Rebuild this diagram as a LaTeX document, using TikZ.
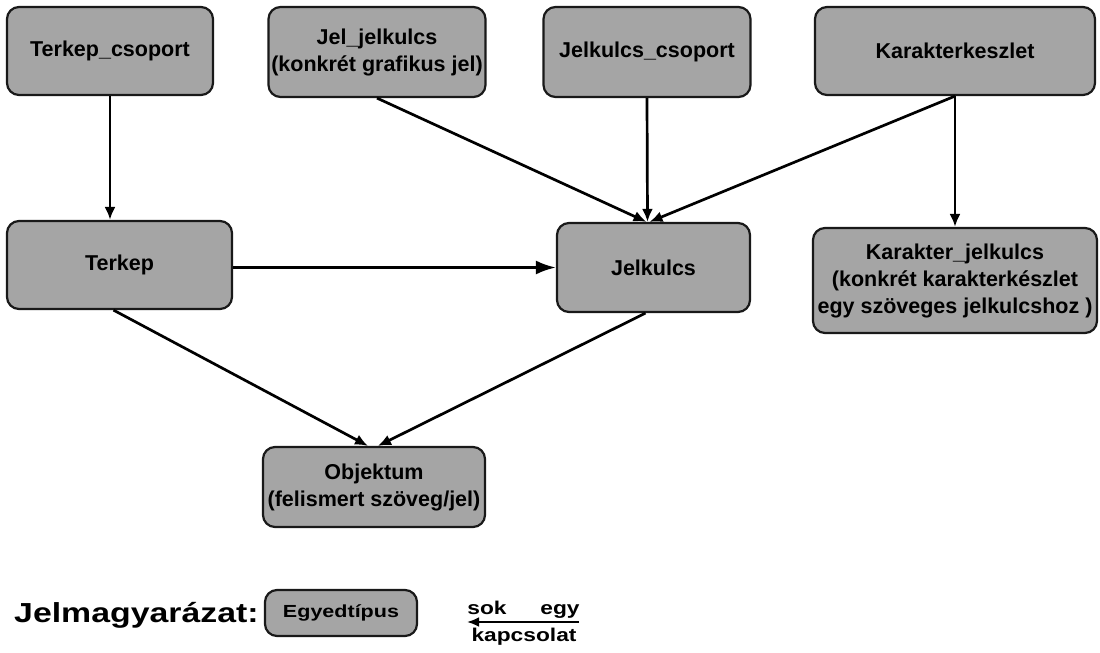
\documentclass[tikz,border=0pt]{standalone}
\usepackage{fontspec}
\setmainfont{Liberation Sans}
\newfontfamily\legfont[FakeStretch=1.23]{Liberation Sans}
\usetikzlibrary{arrows.meta}
\definecolor{boxgray}{RGB}{165,165,165}
\tikzset{
  entity/.style={draw=black!90, line width=2.2pt, fill=boxgray, rounded corners=12pt,
    align=center, inner sep=0pt, font=\fontsize{21.5}{27}\selectfont\bfseries},
  rel/.style={line width=2.7pt, -{Latex[length=13pt,width=11pt]}},
  bigrel/.style={line width=2.7pt, -{Latex[length=20pt,width=14pt]}},
  legtext/.style={inner sep=0pt, font=\legfont\bfseries\fontsize{18.5}{20}\selectfont},
}
\begin{document}
\begin{tikzpicture}[x=1pt,y=-1pt]
\useasboundingbox[fill=white] (0,0) rectangle (1100,653);

\node[entity, minimum width=206pt, minimum height=88pt] (tc) at (110,51) {Terkep\_csoport};
\node[entity, minimum width=217pt, minimum height=90pt] (jj) at (377,52) {Jel\_jelkulcs\\(konkrét grafikus jel)};
\node[entity, minimum width=207pt, minimum height=90pt] (jc) at (647,52) {Jelkulcs\_csoport};
\node[entity, minimum width=280pt, minimum height=88pt] (kk) at (955,51) {Karakterkeszlet};

\node[entity, minimum width=225pt, minimum height=88pt] (t) at (119.5,265) {Terkep};
\node[entity, minimum width=193pt, minimum height=89pt] (j) at (653.5,267.5) {Jelkulcs};
\node[entity, minimum width=284pt, minimum height=105pt] (kj) at (955,280.5) {Karakter\_jelkulcs\\(konkrét karakterkészlet\\egy szöveges jelkulcshoz )};

\node[entity, minimum width=222pt, minimum height=80pt] (o) at (374,487) {Objektum\\(felismert szöveg/jel)};

% connectors
\draw[rel] (tc.south) -- (tc.south |- t.north);
\draw[rel] (jj.south) -- ([xshift=-7pt]j.north);
\draw[rel] (jc.south) -- ([xshift=-6pt]j.north);
\draw[rel] (kk.south) -- ([xshift=-4pt]j.north);
\draw[rel] (kk.south) -- (kj.north);
\draw[bigrel] (j.west -| t.east) -- (j.west);
\draw[rel] ([xshift=-6pt]t.south) -- ([xshift=-6pt]o.north);
\draw[rel] ([xshift=-8pt]j.south) -- ([xshift=4pt]o.north);

% legend
\node[anchor=base west, inner sep=0pt, font=\legfont\bfseries\fontsize{27.5}{30}\selectfont] (lg) at (14,622) {Jelmagyarázat:};
\node[entity, minimum width=152pt, minimum height=46pt, font=\legfont\bfseries\fontsize{17.5}{20}\selectfont] (lb) at (341,613) {Egyedtípus};
\node[legtext, anchor=base] (sok) at (487,614) {sok};
\node[legtext, anchor=base] (egy) at (560,614) {egy};
\node[legtext, anchor=base] (kap) at (524,641) {kapcsolat};
\coordinate (ra) at (579,622);
\coordinate (rb) at (467,622);
\draw[line width=2.7pt, -{Latex[length=12pt,width=10pt]}] (ra) -- (rb);
\end{tikzpicture}
\end{document}
